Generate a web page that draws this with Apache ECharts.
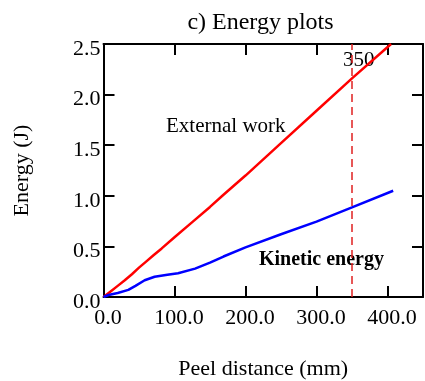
<!DOCTYPE html>
<html>
<head>
<meta charset="utf-8">
<script src="https://cdn.jsdelivr.net/npm/echarts@6/dist/echarts.min.js"></script>
<style>
  html, body { margin: 0; padding: 0; background: #fff; }
  #chart { width: 425px; height: 381px; }
</style>
</head>
<body>
<div id="chart"></div>
<script>
// peel distance (mm) vs energy (J)
var workDist = [0, 10, 20, 30, 40, 50, 60, 70, 82, 100, 125, 150, 169, 200, 250, 300, 350, 405]
var workVal = [0, 0.055, 0.11, 0.165, 0.225, 0.29, 0.35, 0.41, 0.48, 0.59, 0.74, 0.89, 1.01, 1.20, 1.52, 1.84, 2.16, 2.5]
var kinDist = [0, 7, 20, 35, 45, 58, 72, 90, 105, 129, 150, 169, 200, 250, 300, 350, 408]
var kinVal = [0, 0.02, 0.04, 0.07, 0.11, 0.165, 0.20, 0.22, 0.235, 0.28, 0.34, 0.40, 0.49, 0.62, 0.745, 0.885, 1.05]
var xTicks = ['0.0', '100.0', '200.0', '300.0', '400.0']
var yTicks = ['0.0', '0.5', '1.0', '1.5', '2.0', '2.5']
var markDist = 350

var font = 'Liberation Serif'
var chart = echarts.init(document.getElementById('chart'))

function pairs(xs, ys) {
  return xs.map(function (x, i) { return [x, ys[i]] })
}

var axisLine = { show: true, onZero: false, lineStyle: { color: '#000', width: 2 } }
var axisTick = { show: true, inside: true, length: 11, lineStyle: { color: '#000', width: 2 } }

chart.setOption({
  animation: false,
  title: {
    text: 'c) Energy plots',
    left: 255.5,
    top: 6,
    textAlign: 'center',
    textStyle: { fontFamily: font, fontSize: 24, fontWeight: 'normal', color: '#000' }
  },
  grid: { left: 103.5, right: 2, top: 44, bottom: 84, outerBoundsMode: 'none' },
  xAxis: [{
    type: 'value',
    min: 0,
    max: 450,
    interval: 100,
    position: 'bottom',
    name: 'Peel distance (mm)',
    nameLocation: 'middle',
    nameGap: 61,
    nameTextStyle: { fontFamily: font, fontSize: 22, color: '#000' },
    axisLine: axisLine,
    axisTick: axisTick,
    splitLine: { show: false },
    axisLabel: {
      color: '#000', margin: 10,
      showMaxLabel: false,
      formatter: function (v) { return '{v|' + (xTicks[v / 100] || '') + '}' },
      rich: {
        v: { fontFamily: font, fontSize: 22, color: '#000', padding: [0, 0, 0, 9] }
      }
    }
  }, {
    type: 'value',
    min: 0,
    max: 450,
    interval: 100,
    position: 'top',
    axisLine: axisLine,
    axisTick: axisTick,
    splitLine: { show: false },
    axisLabel: { show: false }
  }],
  yAxis: [{
    type: 'value',
    min: 0,
    max: 2.5,
    interval: 0.5,
    position: 'left',
    name: 'Energy (J)',
    nameLocation: 'middle',
    nameGap: 70,
    nameTextStyle: { fontFamily: font, fontSize: 22, color: '#000' },
    axisLine: axisLine,
    axisTick: axisTick,
    splitLine: { show: false },
    axisLabel: {
      color: '#000', margin: 3,
      formatter: function (v) { return '{v|' + yTicks[Math.round(v / 0.5)] + '}' },
      rich: {
        v: { fontFamily: font, fontSize: 22, color: '#000', padding: [10, 0, 0, 0] }
      }
    }
  }, {
    type: 'value',
    min: 0,
    max: 2.5,
    interval: 0.5,
    position: 'right',
    axisLine: axisLine,
    axisTick: axisTick,
    splitLine: { show: false },
    axisLabel: { show: false }
  }],
  series: [{
    name: 'External work',
    type: 'line',
    data: pairs(workDist, workVal),
    showSymbol: false,
    lineStyle: { color: '#ff0000', width: 2.5 },
    markLine: {
      silent: true,
      symbol: 'none',
      label: { show: false },
      lineStyle: { color: '#e02020', type: [8, 5], width: 1.5 },
      data: [{ xAxis: markDist }]
    },
    z: 3
  }, {
    name: 'Kinetic energy',
    type: 'line',
    data: pairs(kinDist, kinVal),
    showSymbol: false,
    lineStyle: { color: '#0000ff', width: 2.5 },
    z: 3
  }],
  graphic: [{
    type: 'text', left: 166, top: 116,
    style: { text: 'External work', font: '21px "Liberation Serif"', fill: '#000' }
  }, {
    type: 'text', left: 259, top: 250,
    style: { text: 'Kinetic energy', font: 'bold 20px "Liberation Serif"', fill: '#000' }
  }, {
    type: 'text', left: 343, top: 50,
    style: { text: String(markDist), font: '21px "Liberation Serif"', fill: '#000' }
  }]
})
</script>
</body>
</html>
